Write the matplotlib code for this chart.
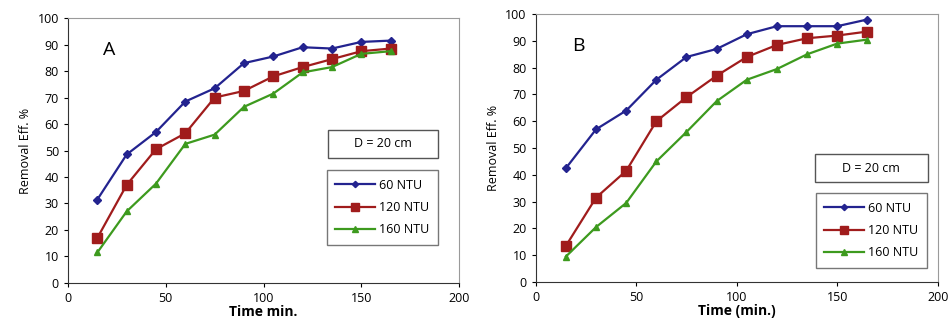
import numpy as np
import matplotlib.pyplot as plt
from matplotlib.patches import Rectangle

plt.rcParams['font.family'] = ['Open Sans', 'DejaVu Sans']

# data
time = [15, 30, 45, 60, 75, 90, 105, 120, 135, 150, 165]
labels = ['60 NTU', '120 NTU', '160 NTU']

a_60 = [31.5, 48.5, 57, 68.5, 73.5, 83, 85.5, 89, 88.5, 91, 91.5]
a_120 = [17, 37, 50.5, 56.5, 70, 72.5, 78, 81.5, 84.5, 87.5, 88.5]
a_160 = [11.5, 27, 37.5, 52.5, 56, 66.5, 71.5, 79.5, 81.5, 86.5, 87.5]

b_60 = [42.5, 57, 64, 75.5, 84, 87, 92.5, 95.5, 95.5, 95.5, 98]
b_120 = [13.5, 31.5, 41.5, 60, 69, 77, 84, 88.5, 91, 92, 93.5]
b_160 = [9.5, 20.5, 29.5, 45, 56, 67.5, 75.5, 79.5, 85, 89, 90.5]

colors = ['#23238f', '#a01c1c', '#3d9a1e']
markers = ['D', 's', '^']
msizes = [4, 6.5, 5]

fig = plt.figure(figsize=(9.5, 3.29), dpi=100)
axA = fig.add_axes([0.0716, 0.140, 0.4116, 0.805])
axB = fig.add_axes([0.564, 0.143, 0.423, 0.814])

# (axes, series, tag, xlabel, legend centre, D box centre, D box size)
panels = [
    (axA, [a_60, a_120, a_160], 'A', 'Time min.', (0.804, 0.285), (0.806, 0.525), (0.281, 0.106)),
    (axB, [b_60, b_120, b_160], 'B', 'Time (min.)', (0.835, 0.192), (0.835, 0.425), (0.281, 0.104)),
]

for ax, series, tag, xlab, legpos, dpos, dsize in panels:
    for ys, c, m, ms, lab in zip(series, colors, markers, msizes, labels):
        ax.plot(time, ys, color=c, marker=m, markersize=ms, lw=1.6, label=lab)
    ax.set_xlim(0, 200)
    ax.set_ylim(0, 100)
    ax.set_xticks(np.arange(0, 201, 50))
    ax.set_yticks(np.arange(0, 101, 10))
    ax.tick_params(labelsize=9, length=3, direction='out')
    for s in ['top', 'right']:
        ax.spines[s].set_color('#9a9a9a')
    for s in ['left', 'bottom']:
        ax.spines[s].set_color('#333333')
    ax.set_xlabel(xlab, fontsize=10, fontweight='bold', labelpad=0)
    ax.set_ylabel('Removal Eff. %', fontsize=9, labelpad=4)
    ax.text(21, 88, tag, fontsize=14, ha='center', va='center')

    ax.add_patch(Rectangle((dpos[0] - dsize[0] / 2, dpos[1] - dsize[1] / 2), dsize[0], dsize[1],
                           transform=ax.transAxes, fc='white', ec='#555555', lw=1, zorder=5))
    ax.text(dpos[0], dpos[1], 'D = 20 cm', transform=ax.transAxes, fontsize=9,
            ha='center', va='center', zorder=6)
    leg = ax.legend(loc='center', bbox_to_anchor=legpos, fontsize=9, frameon=True,
                    fancybox=False, edgecolor='#555555', handlelength=3.2,
                    labelspacing=0.75, borderpad=0.7, handletextpad=0.3, markerscale=0.8)
    leg.get_frame().set_linewidth(1)

fig.savefig('out.png', dpi=100)
